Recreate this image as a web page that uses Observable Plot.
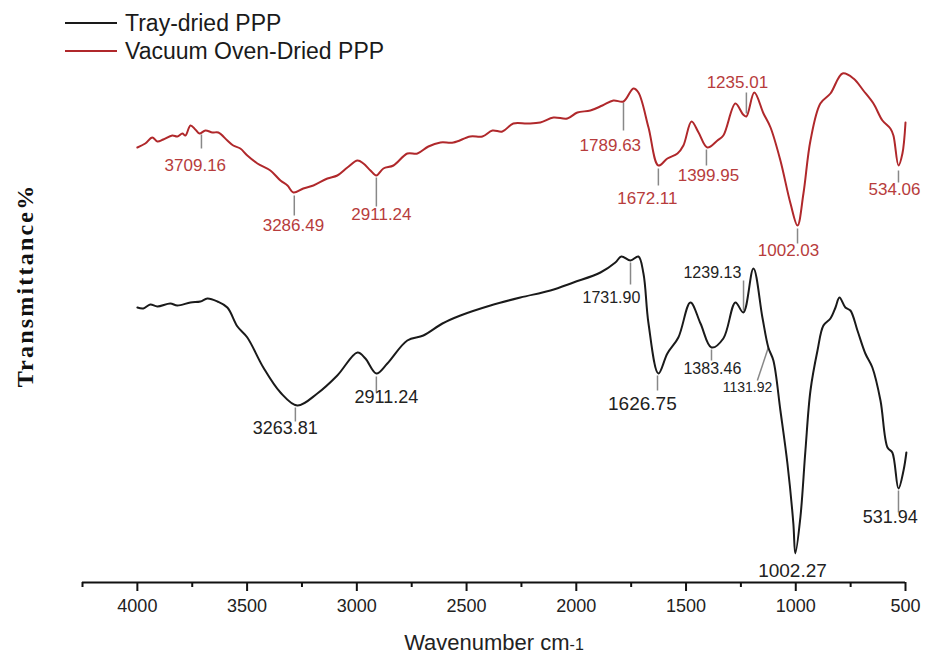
<!DOCTYPE html>
<html><head><meta charset="utf-8">
<script src="https://cdn.jsdelivr.net/npm/d3@7"></script>
<script src="https://cdn.jsdelivr.net/npm/@observablehq/plot@0.6"></script>
<style>
body{margin:0;background:#fff;font-family:"Liberation Sans",Arial,sans-serif;}
#wrap{width:934px;}
#legend{height:62px;box-sizing:border-box;padding-top:9px;padding-left:65px;}
.item{display:flex;align-items:center;height:28px;font-size:23px;color:#1a1a1a;}
.sw{width:52px;height:2px;margin-right:8px;}
</style></head><body>
<div id="wrap"><div id="legend"></div><div id="chart"></div></div>
<script>
// ---- Series names
const seriesNames = ["Tray-dried PPP", "Vacuum Oven-Dried PPP"];

// ---- Tray-dried PPP (wavenumber cm-1, transmittance, arbitrary offset units)
const trayW = [4000,3973,3941,3909,3850,3818,3758,3713,3681,3635,3590,3544,3499,3426,3348,3271,3180,3089,2997,2961,2911,2861,2770,2697,2610,2528,2391,2255,2118,2013,1890,1822,1795,1753,1717,1694,1671,1626,1585,1535,1480,1434,1384,1330,1275,1239,1193,1152,1125,1102,1070,1038,1011,1002,979,956,933,901,874,842,819,801,774,751,719,683,651,614,582,560,532,509,496];
const trayT = [55.0,54.8,55.6,55.2,55.8,55.4,56.0,56.2,56.8,56.2,55.0,51.2,49.0,43.0,38.0,35.4,37.8,41.4,46.0,44.8,41.8,43.8,48.4,49.4,51.8,53.4,55.4,57.0,58.4,60.0,62.0,64.0,65.2,64.4,65.2,61.8,51.8,41.8,45.8,49.0,56.0,51.8,47.0,48.8,56.0,54.0,62.8,53.0,47.0,44.4,34.4,23.8,11.8,5.8,13.0,26.4,38.4,46.4,51.4,52.8,55.0,57.0,55.0,54.4,50.4,45.8,43.0,36.4,27.0,26.0,18.8,22.4,26.0];

// ---- Vacuum Oven-Dried PPP
const vacW = [4000,3964,3932,3909,3882,3841,3818,3795,3781,3758,3736,3717,3690,3658,3631,3590,3563,3531,3499,3453,3394,3348,3316,3289,3244,3198,3134,3089,3043,2997,2970,2938,2911,2879,2833,2770,2724,2674,2619,2560,2483,2428,2382,2337,2287,2223,2164,2104,2041,1995,1936,1881,1831,1785,1740,1717,1671,1626,1585,1539,1512,1475,1443,1403,1357,1330,1275,1240,1225,1189,1147,1115,1070,1024,992,965,933,888,842,787,737,692,646,605,569,555,532,514,500];
const vacT = [87.0,87.8,89.0,88.2,88.6,89.4,89.2,89.8,89.4,91.4,90.6,89.8,90.4,90.0,90.0,88.4,87.4,86.8,85.4,83.8,82.4,80.4,79.4,78.0,78.8,79.4,80.8,81.4,83.0,84.4,83.8,82.4,81.4,82.8,83.4,85.8,85.8,87.2,88.0,88.0,89.2,89.2,90.4,90.2,91.8,91.8,92.0,93.0,92.8,94.0,94.4,95.4,96.4,96.2,98.8,98.0,91.0,83.4,84.8,85.8,87.4,92.2,90.0,87.0,88.4,89.4,95.8,93.6,93.2,98.0,93.8,91.0,84.4,75.8,71.4,77.8,88.4,95.8,97.8,101.8,100.8,98.4,95.8,92.4,90.8,89.4,83.4,85.8,92.0];

// ---- Peak annotations (tray-dried)
const trayPeakLabel = ["3263.81","2911.24","1731.90","1626.75","1383.46","1239.13","1131.92","1002.27","531.94"];
const trayTickW1 = [3280,2911,1753,1630,1384,1238,1125,null,532];
const trayTickW2 = [3280,2911,1753,1630,1384,1238,1175,null,532];
const trayTickT1 = [35.0,41.2,64.0,41.4,46.6,60.4,47.0,null,18.4];
const trayTickT2 = [32.2,38.0,59.6,38.4,44.4,54.4,40.4,null,14.0];
const trayLabelW = [3326,2865,1840,1699,1380,1380,1220,1015,569];
const trayLabelT = [30.8,37.0,57.0,35.8,42.8,62.0,39.0,2.4,13.0];

// ---- Peak annotations (vacuum oven-dried)
const vacPeakLabel = ["3709.16","3286.49","2911.24","1789.63","1672.11","1399.95","1235.01","1002.03","534.06"];
const vacTickW = [3708,3285,2911,1785,1626,1407,1225,992,532];
const vacTickT1 = [89.6,77.4,81.0,96.0,82.8,86.6,98.0,70.8,82.4];
const vacTickT2 = [86.8,73.4,75.2,90.4,79.4,83.4,93.8,67.8,80.0];
const vacLabelW = [3736,3289,2888,1845,1676,1398,1266,1033,550];
const vacLabelT = [83.4,71.4,73.6,87.4,76.8,81.4,100.0,66.4,78.6];

// ---- Axis
const xTicks = [4000,3500,3000,2500,2000,1500,1000,500];
const xMinorTicks = [4250,3750,3250,2750,2250,1750,1250,750];
const xDomain = [4250, 500];
const yDomain = [0, 104];
const xTitle = "Wavenumber cm-1";
const yTitle = "Transmittance%";

// ---- build
const colors = ["#1a1a1a", "#b0282b"];
const labelColors = ["#222222", "#b73c3c"];
const tray = trayW.map((w,i)=>({w, t: trayT[i]}));
const vac = vacW.map((w,i)=>({w, t: vacT[i]}));
const trayAnn = trayPeakLabel.map((l,i)=>({label:l, w1:trayTickW1[i], w2:trayTickW2[i], t1:trayTickT1[i], t2:trayTickT2[i], lw:trayLabelW[i], lt:trayLabelT[i]}));
const vacAnn = vacPeakLabel.map((l,i)=>({label:l, w1:vacTickW[i], w2:vacTickW[i], t1:vacTickT1[i], t2:vacTickT2[i], lw:vacLabelW[i], lt:vacLabelT[i]}));
const traySize = {"1731.90":16,"1383.46":16,"1239.13":16,"1131.92":14,"1626.75":19,"1002.27":19};

const leg = document.getElementById("legend");
seriesNames.forEach((n,i)=>{
  const d = document.createElement("div"); d.className = "item";
  d.innerHTML = `<span class="sw" style="background:${colors[i]}"></span><span>${n}</span>`;
  leg.appendChild(d);
});

const plot = Plot.plot({
  width: 934, height: 593,
  marginLeft: 82, marginRight: 29, marginTop: 0, marginBottom: 73,
  style: {fontFamily: '"Liberation Sans", Arial, sans-serif', overflow: "visible", background: "#fff"},
  x: {domain: xDomain},
  y: {domain: yDomain, axis: null},
  marks: [
    Plot.ruleY([yDomain[0]], {stroke: "#111", strokeWidth: 2}),
    Plot.axisX(xTicks, {tickSize: 9, tickPadding: 8, fontSize: 18, strokeWidth: 2, stroke: "#111", fill: "#222", label: null, tickFormat: d3.format("d")}),
    Plot.axisX(xMinorTicks, {tickSize: 5, strokeWidth: 2, stroke: "#111", tickFormat: () => "", label: null}),
    Plot.link(trayAnn.filter(d=>d.w1!=null), {x1:"w1", x2:"w2", y1:"t1", y2:"t2", stroke:"#888", strokeWidth:1.5}),
    Plot.link(vacAnn, {x1:"w1", x2:"w2", y1:"t1", y2:"t2", stroke:"#888", strokeWidth:1.5}),
    Plot.line(vac, {x:"w", y:"t", stroke: colors[1], strokeWidth: 2, curve: "catmull-rom"}),
    Plot.line(tray, {x:"w", y:"t", stroke: colors[0], strokeWidth: 2, curve: "catmull-rom"}),
    Plot.text(vacAnn, {x:"lw", y:"lt", text:"label", fill: labelColors[1], fontSize: 17}),
    Plot.text(trayAnn, {x:"lw", y:"lt", text:"label", fill: labelColors[0], fontSize: d => traySize[d.label] ?? 18}),
    Plot.text([xTitle], {frameAnchor: "bottom", dy: 67, lineAnchor: "bottom", fontSize: 22, fill: "#222"}),
    Plot.text([yTitle], {frameAnchor: "left", textAnchor: "middle", dx: -57, dy: -37, rotate: -90, fontSize: 24, fontWeight: "bold", fontFamily: '"Liberation Serif", "Times New Roman", serif', fill: "#111"})
  ]
});
document.getElementById("chart").appendChild(plot);
const allText = d3.select(plot).selectAll("text");
allText.filter(function(){ return this.textContent === xTitle; })
  .text("Wavenumber cm").append("tspan").attr("font-size", 16).text("-1");
allText.filter(function(){ return this.textContent === yTitle; })
  .attr("letter-spacing", "2.2px");
</script>
</body></html>
